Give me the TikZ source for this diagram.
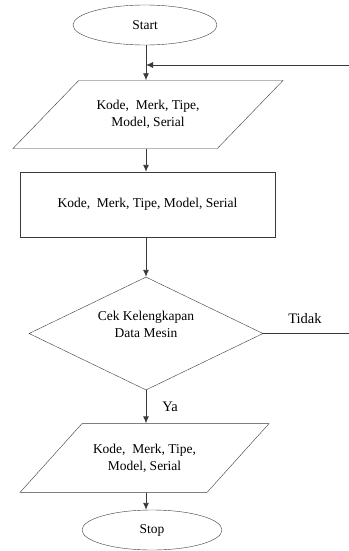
\documentclass[tikz,border=0pt]{standalone}
\usepackage{fontspec}
\setmainfont{Liberation Serif}
\usetikzlibrary{shapes.geometric,arrows.meta}
\definecolor{ourline}{HTML}{3A3A3A}

\begin{document}
\begin{tikzpicture}[x=1pt,y=-1pt,>={Latex[length=7pt,width=6pt]}]

  \tikzstyle{terminal}=[draw=ourline, ellipse, inner sep=0pt,
                        minimum width=144pt, minimum height=40pt]
  \tikzstyle{io}=[draw=ourline, trapezium, inner xsep=0pt, align=center,
                  trapezium stretches body]
  \tikzstyle{process}=[draw=ourline, inner sep=0pt,
                       minimum width=255pt, minimum height=65pt]
  \tikzstyle{decision}=[draw=ourline, diamond, inner sep=0pt, align=center,
                        shape aspect=2.07, text depth=18pt,
                        minimum width=234pt, minimum height=113pt]
  \tikzstyle{label}=[inner sep=0pt, font=\fontsize{14.5}{17}\selectfont]
  \tikzstyle{flow}=[draw=ourline, line width=0.9pt, ->]

  \useasboundingbox (0,0) rectangle (348,551);
  \fontsize{13.5}{17}\selectfont

  \path
  (145,25) node[terminal](start){Start};

  \path
  (148,114.5) node[io, trapezium left angle=46, trapezium right angle=134,
                   inner ysep=19.8pt, minimum width=270pt](inx)
              {Kode,\ \ Merk, Tipe,\\Model, Serial};

  \path
  (147.5,204.5) node[process](proc){Kode,\ \ Merk, Tipe, Model, Serial};

  \path
  (146,333.5) node[decision](check){Cek Kelengkapan\\Data Mesin};

  \path
  (144.5,458) node[io, trapezium left angle=48, trapezium right angle=132,
                   inner ysep=20.2pt, minimum width=249pt](outx)
              {Kode,\ \ Merk, Tipe,\\Model, Serial};

  \path
  (152,530) node[terminal, minimum width=140pt](stop){Stop};

  \coordinate (loopr) at (360,333.5);
  \coordinate (join) at (146,65);

  \draw (305,319) node[label]{Tidak};
  \draw (170,407) node[label]{Ya};

  \draw[flow] (join) -- (join |- inx.north);
  \draw[ourline, line width=0.9pt] (join |- start.south) -- (join);
  \draw[flow] (join |- inx.south) -- (join |- proc.north);
  \draw[flow] (join |- proc.south) -- (check.north);
  \draw[flow] (check.south) -- (check.south |- outx.north);
  \draw[flow] (check.south |- outx.south) -- (check.south |- stop.north);
  \draw[flow] (check.east) -- (loopr) |- (join);

\end{tikzpicture}
\end{document}
